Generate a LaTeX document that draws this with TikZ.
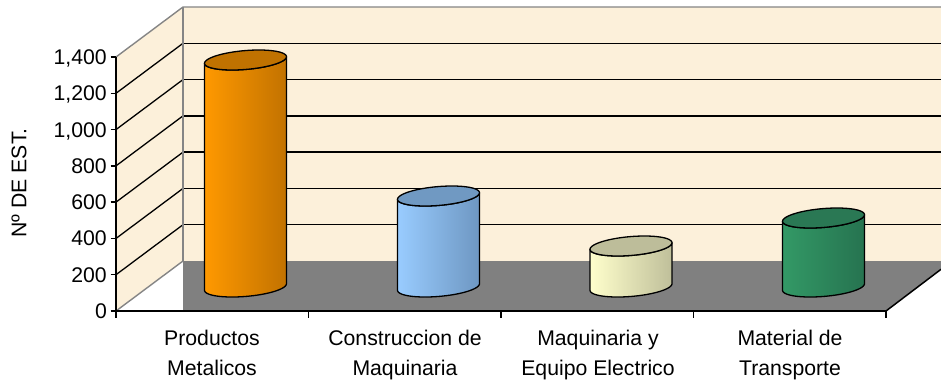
\documentclass[tikz,border=0pt]{standalone}
\usepackage{fontspec}
\setmainfont{Liberation Sans}
\definecolor{wallc}{HTML}{FCF0DA}
\definecolor{floorc}{HTML}{808080}
\definecolor{edgec}{HTML}{858585}
\definecolor{orL}{HTML}{FF9900}
\definecolor{orR}{HTML}{C27200}
\definecolor{orT}{HTML}{C07200}
\definecolor{blL}{HTML}{99CCFF}
\definecolor{blR}{HTML}{6E97C2}
\definecolor{blT}{HTML}{7099C2}
\definecolor{yeL}{HTML}{FFFFCC}
\definecolor{yeR}{HTML}{BFBF9A}
\definecolor{yeT}{HTML}{BDBD9A}
\definecolor{grL}{HTML}{339966}
\definecolor{grR}{HTML}{267350}
\definecolor{grT}{HTML}{2A7854}
\tikzset{
  wallline/.style={draw=edgec, line width=1.4bp},
  gridline/.style={draw=black, line width=1.3bp},
  axisline/.style={draw=black, line width=1.5bp},
  lbl/.style={font=\fontsize{21.3}{30}\selectfont, inner sep=0pt},
  cylside/.style={draw=black, line width=1.3bp, line join=round},
}
\newcommand{\mycyl}[6]{%
  \shadedraw[cylside, left color=#4, right color=#5]
    plot[domain=199.1:379.1, samples=50, variable=\t] ({#1+38.7*cos(\t)+13.4*sin(\t)}, {#2-10*sin(\t)})
    -- plot[domain=379.1:199.1, samples=50, variable=\t] ({#1+38.7*cos(\t)+13.4*sin(\t)}, {#3-10*sin(\t)}) -- cycle;
  \filldraw[cylside, fill=#6]
    plot[domain=0:360, samples=80, variable=\t] ({#1+38.7*cos(\t)+13.4*sin(\t)}, {#3-10*sin(\t)}) -- cycle;
}
\begin{document}
\begin{tikzpicture}[x=1bp, y=-1bp]
\useasboundingbox (0,0) rectangle (941,381);
% walls
\fill[white] (0,0) rectangle (941,381);
\fill[wallc] (183,7) rectangle (941,261);
\fill[wallc] (116,57) -- (183,7) -- (183,261) -- (116,311) -- cycle;
% floor
\fill[floorc] (183,261) -- (941,261) -- (941,269.3) -- (886,311) -- (183,311) -- cycle;
% back grid lines and left-wall diagonals
\foreach \k in {1,...,6} {
  \pgfmathsetmacro{\yb}{261-\k*36.286}
  \pgfmathsetmacro{\yf}{311-\k*36.286}
  \draw[gridline] (183,\yb) -- (941,\yb);
  \draw[gridline] (116,\yf) -- (183,\yb);
}
% wall edges
\draw[wallline] (116,57) -- (183,7) -- (941,7);
\draw[wallline] (183,7) -- (183,261);
\draw[wallline] (116,311) -- (183,261);
% floor right edge
\draw[axisline] (886,311) -- (941,269.3);
% cylinders
\mycyl{245.5}{287}{60}{orL}{orR}{orT}
\mycyl{438.5}{287}{196}{blL}{blR}{blT}
\mycyl{631}{287}{246}{yeL}{yeR}{yeT}
\mycyl{823.5}{287}{218}{grL}{grR}{grT}
% axes
\draw[axisline] (116,57) -- (116,311) -- (886,311);
\foreach \x in {116,308.5,501,693.5,886} \draw[axisline] (\x,311) -- (\x,318);
\foreach \k/\v in {0/0,1/200,2/400,3/600,4/800,5/{1,000},6/{1,200},7/{1,400}} {
  \pgfmathsetmacro{\yf}{311-\k*36.286}
  \draw[axisline] (110.5,\yf) -- (116,\yf);
  \node[lbl, anchor=base east] (t\k) at (107,\yf+7.5) {\v};
}
\node[lbl, rotate=90] (ytitle) at (19,183) {Nº DE EST.};
% category labels
\node[lbl, anchor=base] (c1a) at (212,345) {Productos};
\node[lbl, anchor=base] (c1b) at (212,375) {Metalicos};
\node[lbl, anchor=base] (c2a) at (405,345) {Construccion de};
\node[lbl, anchor=base] (c2b) at (405,375) {Maquinaria};
\node[lbl, anchor=base] (c3a) at (598,345) {Maquinaria y};
\node[lbl, anchor=base] (c3b) at (598,375) {Equipo Electrico};
\node[lbl, anchor=base] (c4a) at (790,345) {Material de};
\node[lbl, anchor=base] (c4b) at (790,375) {Transporte};
\end{tikzpicture}
\end{document}
